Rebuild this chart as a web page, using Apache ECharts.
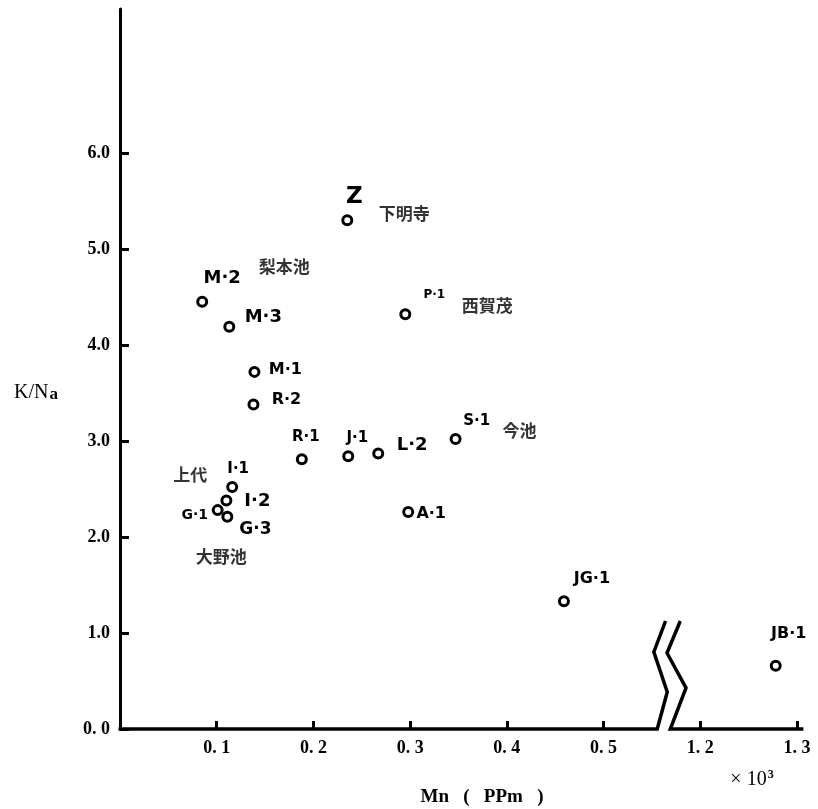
<!DOCTYPE html>
<html>
<head>
<meta charset="utf-8">
<script src="https://cdn.jsdelivr.net/npm/echarts@6/dist/echarts.min.js"></script>
<style>html,body{margin:0;padding:0;background:#fff}#c{width:818px;height:809px}</style>
</head>
<body>
<div id="c"></div>
<script>
// ---- data (Mn in 10^3 ppm, K/Na ratio) ----
const sampleNames = ['Z','M·2','M·3','P·1','M·1','R·2','R·1','J·1','L·2','S·1','I·1','I·2','G·1','G·3','A·1','JG·1','JB·1'];
const mnValues   = [0.235,0.085,0.113,0.295,0.139,0.138,0.188,0.236,0.267,0.347,0.116,0.110,0.101,0.111,0.298,0.459,1.278];
const knaValues  = [5.30,4.45,4.19,4.32,3.72,3.38,2.81,2.84,2.87,3.02,2.52,2.38,2.28,2.21,2.26,1.33,0.66];
const siteNames  = {'Z':'下明寺','M·2':'梨本池','P·1':'西賀茂','S·1':'今池','I·1':'上代','G·3':'大野池'};
const xTickValues = [0.1,0.2,0.3,0.4,0.5,1.2,1.3];
const xTickLabels = ['0. 1','0. 2','0. 3','0. 4','0. 5','1. 2','1. 3'];
const yTickValues = [0,1,2,3,4,5,6];
const yTickLabels = ['0. 0','1.0','2.0','3.0','4.0','5.0','6.0'];

// ---- axis break (values >= 1.0 are drawn shifted left by 0.6) ----
const BREAK_SHIFT = 0.6;
const toPlot = v => +((v >= 1.0 ? v - BREAK_SHIFT : v).toFixed(6));

// ---- label styling (offsets in px from the point, font size) ----
const labelStyle = {
  'Z':[7,-23,23],'M·2':[20,-23,18],'M·3':[34,-9,18],'P·1':[29,-19,12],'M·1':[31,-2,16],
  'R·2':[33,-5,16],'R·1':[4,-22,15],'J·1':[9,-18,15],'L·2':[34,-8,18],'S·1':[21,-18,15],
  'I·1':[6,-18,15],'I·2':[31,1,18],'G·1':[-23,5,14],'G·3':[28,13,17],'A·1':[23,2,16],
  'JG·1':[28,-22,16],'JB·1':[13,-32,16]
};
const siteOffset = {'Z':[57,-7],'M·2':[82,-35],'P·1':[82,-9],'S·1':[64,-9],'I·1':[-42,-13],'G·3':[-6,40]};

const serif = '"Liberation Serif","DejaVu Serif",serif';
const sans = '"DejaVu Sans","Liberation Sans",sans-serif';
const cjk = '"Noto Sans CJK JP","Noto Sans CJK SC",sans-serif';

const pointData = sampleNames.map((n,i)=>({
  value:[toPlot(mnValues[i]), knaValues[i]],
  name:n,
  label:{show:true, position:'inside', formatter:n, offset:[labelStyle[n][0],labelStyle[n][1]],
         fontSize:labelStyle[n][2], fontWeight:'bold', fontFamily:sans, color:'#000', textBorderWidth:0}
}));
const siteData = sampleNames.map((n,i)=>siteNames[n] ? ({
  value:[toPlot(mnValues[i]), knaValues[i]],
  name:siteNames[n],
  label:{show:true, position:'inside', formatter:siteNames[n], offset:siteOffset[n],
         fontSize:17, fontFamily:cjk, fontWeight:'bold', color:'#000', textBorderWidth:0}
}) : null).filter(Boolean);

const xTickPlot = xTickValues.map(toPlot);
const chart = echarts.init(document.getElementById('c'), null, {renderer:'canvas'});
chart.setOption({
  backgroundColor:'#fff',
  animation:false,
  grid:{left:120, right:21, top:9, bottom:80, containLabel:false},
  xAxis:{
    type:'value', min:0, max:0.7,
    axisLine:{show:false},
    splitLine:{show:false},
    axisTick:{show:true, inside:true, length:8, customValues:xTickPlot, lineStyle:{color:'#000', width:3}},
    axisLabel:{show:true, customValues:xTickPlot, margin:10, color:'#000', fontSize:18, fontFamily:serif, fontWeight:'bold',
      formatter:v=>{const k=xTickPlot.findIndex(t=>Math.abs(t-v)<1e-6);return k>=0?xTickLabels[k]:'';}}
  },
  yAxis:{
    type:'value', min:0, max:7.5,
    axisLine:{show:true, lineStyle:{color:'#000', width:3}},
    splitLine:{show:false},
    axisTick:{show:true, inside:true, length:9, customValues:yTickValues, lineStyle:{color:'#000', width:3}},
    axisLabel:{show:true, customValues:yTickValues, margin:10, color:'#000', fontSize:18, fontFamily:serif, fontWeight:'bold',
      formatter:v=>{const k=yTickValues.findIndex(t=>Math.abs(t-v)<1e-6);return k>=0?yTickLabels[k]:'';}}
  },
  series:[
    {type:'scatter', symbol:'circle', symbolSize:9, data:pointData, clip:false,
     itemStyle:{color:'#fff', borderColor:'#000', borderWidth:3, opacity:1}, emphasis:{disabled:true}, z:3},
    {type:'scatter', symbol:'circle', symbolSize:1, data:siteData, clip:false,
     itemStyle:{color:'rgba(0,0,0,0)'}, emphasis:{disabled:true}, z:2}
  ]
});

// ---- decorations: broken x-axis baseline with zigzag, axis titles ----
function drawDecor(){
  const p0 = chart.convertToPixel({gridIndex:0},[0,0]);
  const pL = chart.convertToPixel({gridIndex:0},[0.5555,0]);
  const pR = chart.convertToPixel({gridIndex:0},[0.569,0]);
  const pEnd = chart.convertToPixel({gridIndex:0},[0.7066,0]);
  const y0 = p0[1];
  const lineStyle = {stroke:'#000', lineWidth:3.5, fill:null, lineJoin:'miter'};
  const leftPts = [[p0[0]-1.5,y0],[pL[0],y0],[pL[0]+10,y0-37],[pL[0]-3.4,y0-77],[pL[0]+8.3,y0-108]];
  const rightPts = [[pR[0]+10,y0-108],[pR[0]-3.3,y0-76],[pR[0]+15.7,y0-41],[pR[0],y0],[pEnd[0],y0]];
  chart.setOption({graphic:[
    {type:'polyline', shape:{points:leftPts}, style:lineStyle, silent:true, z:10},
    {type:'polyline', shape:{points:rightPts}, style:lineStyle, silent:true, z:10},
    {type:'text', x:36, y:393, style:{text:'{a|K/N}{b|a}', align:'center', verticalAlign:'middle',
      rich:{a:{fontSize:20, fontFamily:serif, fill:'#000'}, b:{fontSize:17, fontFamily:serif, fill:'#000', fontWeight:'bold', padding:[4,0,0,1]}}}, silent:true},
    {type:'text', x:482, y:797, style:{text:'Mn   (   PPm   )', align:'center', verticalAlign:'middle', fontSize:19, fontWeight:'bold', fontFamily:serif, fill:'#000'}, silent:true},
    {type:'text', x:752, y:780, style:{text:'{a|× 10}{b|3}', align:'center', verticalAlign:'middle',
      rich:{a:{fontSize:20, fontFamily:serif, fill:'#000'}, b:{fontSize:12, fontFamily:serif, fill:'#000', fontWeight:'bold', padding:[0,0,11,1]}}}, silent:true}
  ]});
}
drawDecor();
</script>
</body>
</html>
